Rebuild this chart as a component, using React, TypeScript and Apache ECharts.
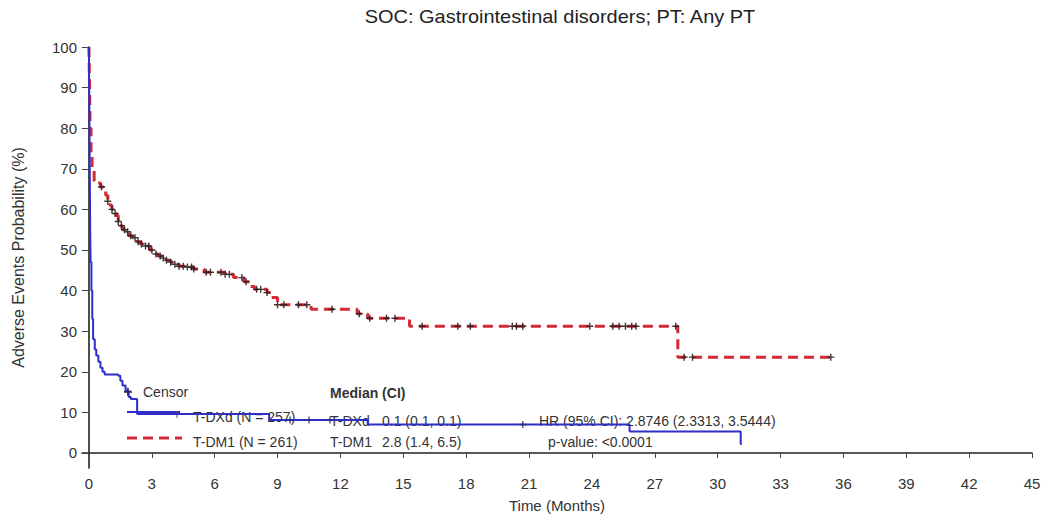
import React, { useEffect, useRef } from "react";
import * as echarts from "echarts";

// ---- data ----
const xTicks = [0, 3, 6, 9, 12, 15, 18, 21, 24, 27, 30, 33, 36, 39, 42, 45];
const yTicks = [0, 10, 20, 30, 40, 50, 60, 70, 80, 90, 100];

// T-DXd Kaplan-Meier step points [time (months), probability %]
const tdxdTimes = [0, 0.02, 0.04, 0.06, 0.08, 0.12, 0.16, 0.2, 0.28, 0.35, 0.45, 0.55, 0.65, 0.75, 1.4, 1.5, 1.6, 1.75, 1.9, 2.0, 2.3, 8.6, 13.3, 25.8, 31.1, 31.15];
const tdxdProb = [100, 85, 70, 55, 47, 40, 33, 28, 25.5, 24, 22.5, 21, 20, 19.3, 19, 17.8, 16.6, 15.2, 13.8, 13.3, 9.6, 8.1, 7.0, 5.3, 2.2, 2.2];
const tdxdCensor = [1.85, 9.6, 10.5, 11.5, 20.7];

// T-DM1 Kaplan-Meier step points
const tdm1Times = [0, 0.03, 0.06, 0.1, 0.15, 0.25, 0.4, 0.55, 0.7, 0.8, 0.9, 1.0, 1.1, 1.2, 1.3, 1.4, 1.5, 1.6, 1.75, 1.9, 2.1, 2.3, 2.5, 2.7, 2.9, 3.1, 3.3, 3.5, 3.7, 3.9, 4.1, 4.3, 4.6, 5.0, 5.5, 6.5, 6.9, 7.4, 7.7, 7.9, 8.5, 8.7, 9.0, 10.6, 12.8, 13.3, 15.3, 28.1, 35.4];
const tdm1Prob = [100, 90, 80, 74, 70, 67, 66.5, 65.5, 64.5, 63.5, 62, 61, 60, 59, 58.5, 57, 56, 55, 54.5, 53.5, 53, 52, 51.5, 51, 50, 49, 48.5, 48, 47.5, 47, 46.5, 46, 45.8, 45.3, 44.5, 44, 43.2, 42.2, 41, 40.3, 39.5, 38.3, 36.5, 35.4, 34.3, 33.2, 31.2, 23.6, 23.6];
const tdm1Censor = [0.6, 0.9, 1.1, 1.25, 1.4, 1.55, 1.7, 1.85, 2.0, 2.2, 2.35, 2.5, 2.7, 2.85, 3.0, 3.2, 3.4, 3.55, 3.7, 3.9, 4.1, 4.3, 4.5, 4.7, 4.9, 5.0, 5.6, 5.8, 6.3, 6.5, 6.7, 7.3, 7.5, 8.0, 8.2, 8.5, 9.0, 9.3, 10.0, 10.4, 11.6, 12.9, 13.4, 14.2, 14.6, 15.9, 17.6, 18.2, 20.2, 20.4, 20.7, 23.9, 25.0, 25.3, 25.6, 25.9, 26.1, 28.0, 28.4, 28.8, 35.4];

const seriesNames = ["T-DXd (N = 257)", "T-DM1 (N = 261)"];
const medianRows = [
  ["T-DXd", "0.1 (0.1, 0.1)"],
  ["T-DM1", "2.8 (1.4, 6.5)"],
];
const hrText = "HR (95% CI): 2.8746 (2.3313, 3.5444)";
const pText = "p-value: <0.0001";
const titleText = "SOC: Gastrointestinal disorders; PT: Any PT";

const BLUE = "#2f2fc8";
const RED = "#d42a35";
const FONT = "'Liberation Sans', Arial, sans-serif";
const PLUS = "path://M4,0h2v4h4v2h-4v4h-2v-4h-4v-2h4z";

function stepValue(times: number[], probs: number[], t: number) {
  let v = probs[0];
  for (let i = 0; i < times.length; i++) {
    if (times[i] <= t) v = probs[i];
  }
  return v;
}

export default function App() {
  const ref = useRef<HTMLDivElement>(null);
  useEffect(() => {
    if (!ref.current) return;
    const chart = echarts.init(ref.current, null, { renderer: "svg" });
    const tdxd = tdxdTimes.map((t, i) => [t, tdxdProb[i]]);
    const tdm1 = tdm1Times.map((t, i) => [t, tdm1Prob[i]]);
    const tdxdC = tdxdCensor.map((t) => [t, stepValue(tdxdTimes, tdxdProb, t)]);
    const tdm1C = tdm1Censor.map((t) => [t, stepValue(tdm1Times, tdm1Prob, t)]);
    const txt = (x: number, y: number, text: string, extra: any = {}) => ({
      type: "text",
      x,
      y,
      silent: true,
      style: {
        text,
        fill: "#333",
        font: `14px ${FONT}`,
        textVerticalAlign: "middle",
        ...extra,
      },
    });
    chart.setOption({
      animation: false,
      backgroundColor: "#fff",
      textStyle: { fontFamily: FONT },
      grid: { left: 82, right: 14, top: 47, bottom: 49, containLabel: false },
      xAxis: {
        type: "value",
        min: -0.33,
        max: 45,
        name: "Time (Months)",
        nameLocation: "middle",
        nameGap: 30,
        nameTextStyle: { color: "#333", fontSize: 15, fontFamily: FONT },
        axisLine: { lineStyle: { color: "#222", width: 1.6 } },
        axisTick: { show: true, length: 5, customValues: xTicks, lineStyle: { color: "#444" } },
        axisLabel: { customValues: xTicks, color: "#333", fontSize: 15, margin: 8, fontFamily: FONT },
        splitLine: { show: false },
      },
      yAxis: {
        type: "value",
        min: -3.7,
        max: 100,
        name: "Adverse Events Probability (%)",
        nameLocation: "middle",
        nameGap: 56,
        nameRotate: 90,
        nameTextStyle: { color: "#333", fontSize: 16, fontFamily: FONT },
        axisLine: { show: true, lineStyle: { color: "#222", width: 1.6 } },
        axisTick: { show: true, length: 7, customValues: yTicks, lineStyle: { color: "#444" } },
        axisLabel: { customValues: yTicks, color: "#333", fontSize: 15, margin: 5, fontFamily: FONT },
        splitLine: { show: false },
      },
      series: [
        {
          name: seriesNames[1],
          type: "line",
          step: "end",
          data: tdm1,
          showSymbol: false,
          lineStyle: { color: RED, width: 3, type: [10, 6] },
          z: 2,
        },
        {
          name: seriesNames[0],
          type: "line",
          step: "end",
          data: tdxd,
          showSymbol: false,
          lineStyle: { color: BLUE, width: 2 },
          z: 3,
        },
        {
          type: "scatter",
          data: tdm1C,
          symbol: PLUS,
          symbolSize: 7,
          itemStyle: { color: "#2e2222", opacity: 0.9 },
          z: 4,
        },
        {
          type: "scatter",
          data: tdxdC,
          symbol: PLUS,
          symbolSize: 7,
          itemStyle: { color: "#2a2a6a", opacity: 0.85 },
          z: 4,
        },
      ],
      graphic: [
        {
          type: "text",
          x: 560,
          y: 17,
          scaleX: 1.11,
          silent: true,
          style: {
            text: titleText,
            fill: "#222",
            font: `18px ${FONT}`,
            textAlign: "center",
            textVerticalAlign: "middle",
          },
        },
        // legend
        {
          type: "polygon",
          x: 128,
          y: 392,
          shape: { points: [[-0.7, -4], [0.7, -4], [0.7, -0.7], [4, -0.7], [4, 0.7], [0.7, 0.7], [0.7, 4], [-0.7, 4], [-0.7, 0.7], [-4, 0.7], [-4, -0.7], [-0.7, -0.7]] },
          style: { fill: "#333" },
        },
        txt(143, 392, "Censor"),
        { type: "line", shape: { x1: 127, y1: 412, x2: 180, y2: 412 }, style: { stroke: BLUE, lineWidth: 2 } },
        { type: "line", shape: { x1: 177, y1: 411, x2: 177, y2: 418 }, style: { stroke: "#555", lineWidth: 1 } },
        { type: "line", shape: { x1: 174, y1: 414, x2: 180, y2: 414 }, style: { stroke: "#555", lineWidth: 1 } },
        txt(193, 417, seriesNames[0]),
        { type: "line", shape: { x1: 127, y1: 438, x2: 182, y2: 438 }, style: { stroke: RED, lineWidth: 3, lineDash: [10, 6] } },
        txt(193, 442, seriesNames[1]),
        // median block
        txt(330, 393, "Median (CI)", { font: `bold 14px ${FONT}`, fill: "#333" }),
        txt(330, 421, medianRows[0][0]),
        txt(382, 421, medianRows[0][1]),
        txt(330, 442, medianRows[1][0]),
        txt(382, 442, medianRows[1][1]),
        txt(539, 421, hrText),
        txt(548, 442, pText),
      ],
    });
    return () => chart.dispose();
  }, []);
  return (
    <div
      ref={ref}
      style={{ position: "fixed", left: 0, top: 0, width: 1046, height: 518, background: "#fff" }}
    />
  );
}
